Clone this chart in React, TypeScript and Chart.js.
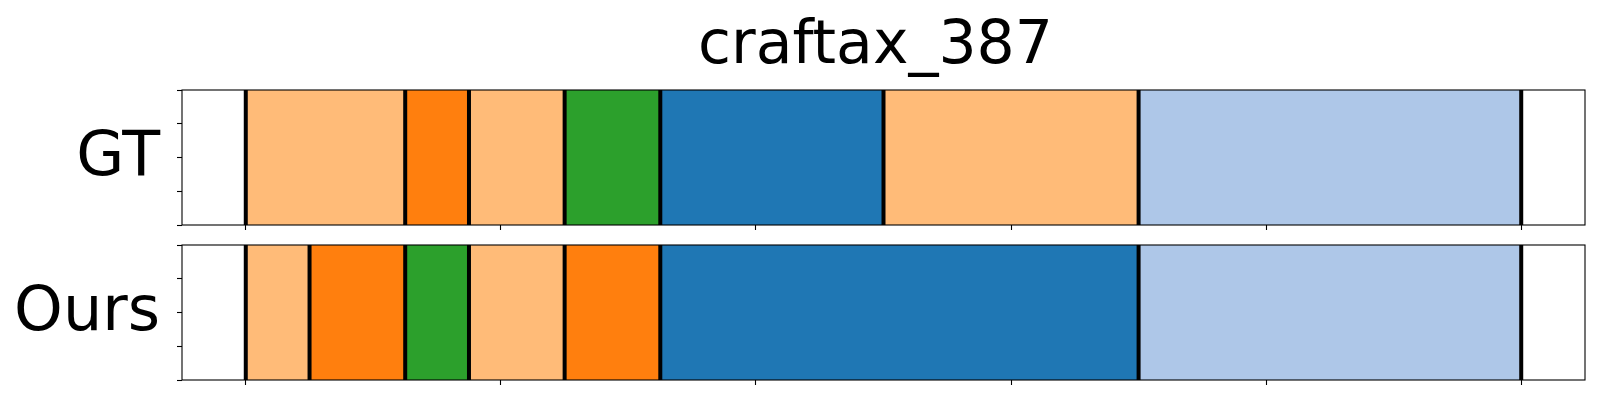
import React, { useEffect, useRef } from "react";
import { Chart, registerables } from "chart.js";

Chart.register(...registerables);

const TITLE = "craftax_387";
const ROW_LABELS = ["GT", "Ours"];

// tab20 palette classes
const CLASS_COLORS = ["#1f77b4", "#aec7e8", "#ff7f0e", "#ffbb78", "#2ca02c"];

// segment boundaries (normalised time) and class index of each segment
const GT_BOUNDS = [0, 0.125, 0.175, 0.25, 0.325, 0.5, 0.7, 1.0];
const GT_CLASSES = [3, 2, 3, 4, 0, 3, 1];

const OURS_BOUNDS = [0, 0.05, 0.125, 0.175, 0.25, 0.325, 0.7, 1.0];
const OURS_CLASSES = [3, 2, 4, 3, 2, 0, 1];

const X_TICKS = [0, 0.2, 0.4, 0.6, 0.8, 1.0];
const Y_TICKS = [0, 0.25, 0.5, 0.75, 1.0];
const X_MIN = -0.05;
const X_MAX = 1.05;

const FONT = '"DejaVu Sans", sans-serif';

function makeConfig(label: string, bounds: number[], classes: number[], top: number, bottom: number, showTitle: boolean) {
  const data = classes.map((c, i) => ({ x: [bounds[i], bounds[i + 1]], y: label }));
  const colors = classes.map((c) => CLASS_COLORS[c]);
  const overlay = {
    id: "overlay" + label,
    afterDatasetsDraw(chart: any) {
      const { ctx, chartArea } = chart;
      const xs = chart.scales.x;
      ctx.save();
      ctx.strokeStyle = "#000";
      ctx.lineWidth = 4;
      bounds.forEach((b) => {
        const px = xs.getPixelForValue(b);
        ctx.beginPath();
        ctx.moveTo(px, chartArea.top);
        ctx.lineTo(px, chartArea.bottom);
        ctx.stroke();
      });
      ctx.restore();
    },
    afterDraw(chart: any) {
      const { ctx, chartArea } = chart;
      ctx.save();
      ctx.strokeStyle = "#000";
      ctx.lineWidth = 1.1;
      ctx.strokeRect(chartArea.left, chartArea.top, chartArea.right - chartArea.left, chartArea.bottom - chartArea.top);
      ctx.fillStyle = "#000";
      ctx.font = "62px " + FONT;
      ctx.textAlign = "right";
      ctx.textBaseline = "alphabetic";
      const cy = (chartArea.top + chartArea.bottom) / 2;
      ctx.fillText(label, chartArea.left - 22, cy + 17);
      if (showTitle) {
        ctx.textAlign = "center";
        ctx.font = "60px " + FONT;
        ctx.fillText(TITLE, (chartArea.left + chartArea.right) / 2 - 8, 63);
      }
      ctx.restore();
    },
  };
  return {
    type: "bar" as const,
    data: {
      labels: [label],
      datasets: [
        {
          data,
          backgroundColor: colors,
          borderWidth: 0,
          barPercentage: 1,
          categoryPercentage: 1,
        },
      ],
    },
    options: {
      indexAxis: "y" as const,
      responsive: false,
      animation: false as const,
      devicePixelRatio: 1,
      layout: { padding: { left: 182, right: 15, top, bottom } },
      plugins: { legend: { display: false }, tooltip: { enabled: false }, title: { display: false } },
      scales: {
        x: {
          type: "linear" as const,
          min: X_MIN,
          max: X_MAX,
          position: "bottom" as const,
          offset: false,
          afterBuildTicks: (s: any) => {
            s.ticks = X_TICKS.map((v) => ({ value: v }));
          },
          afterFit: (s: any) => {
            s.height = 0;
          },
          ticks: { display: false },
          grid: { drawOnChartArea: false, drawTicks: true, tickLength: 5, tickWidth: 1.1, tickColor: "#000", offset: false },
          border: { display: false },
        },
        y: {
          type: "category" as const,
          display: false,
        },
        yt: {
          type: "linear" as const,
          position: "left" as const,
          min: 0,
          max: 1,
          offset: false,
          afterBuildTicks: (s: any) => {
            s.ticks = Y_TICKS.map((v) => ({ value: v }));
          },
          afterFit: (s: any) => {
            s.width = 0;
          },
          ticks: { display: false },
          grid: { drawOnChartArea: false, drawTicks: true, tickLength: 5, tickWidth: 1.1, tickColor: "#000", offset: false },
          border: { display: false },
        },
      },
    },
    plugins: [overlay],
  };
}

export default function App() {
  const ref1 = useRef<HTMLCanvasElement>(null);
  const ref2 = useRef<HTMLCanvasElement>(null);
  useEffect(() => {
    const c1 = new Chart(ref1.current as HTMLCanvasElement, makeConfig(ROW_LABELS[0], GT_BOUNDS, GT_CLASSES, 90, 175, true) as any);
    const c2 = new Chart(ref2.current as HTMLCanvasElement, makeConfig(ROW_LABELS[1], OURS_BOUNDS, OURS_CLASSES, 245, 20, false) as any);
    return () => {
      c1.destroy();
      c2.destroy();
    };
  }, []);
  const style: React.CSSProperties = { position: "absolute", left: 0, top: 0, width: 1600, height: 400 };
  return (
    <div style={{ position: "fixed", left: 0, top: 0, width: 1600, height: 400, background: "#fff" }}>
      <canvas ref={ref1} width={1600} height={400} style={style} />
      <canvas ref={ref2} width={1600} height={400} style={style} />
    </div>
  );
}
